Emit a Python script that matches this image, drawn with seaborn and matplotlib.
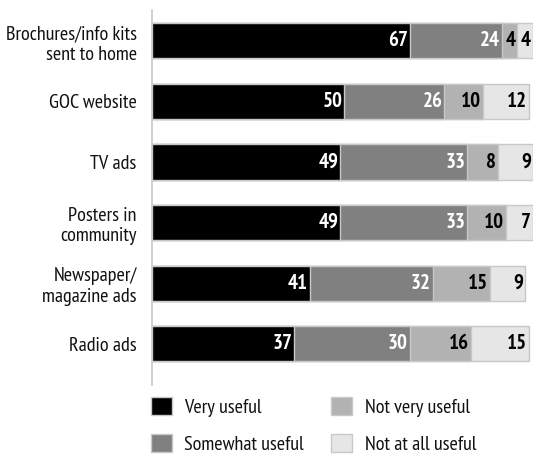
import matplotlib
matplotlib.use("Agg")
import matplotlib.pyplot as plt
import matplotlib.patches as mpatches
import numpy as np
import pandas as pd
import seaborn as sns

channels = ["Brochures/info kits\nsent to home", "GOC website", "TV ads",
            "Posters in\ncommunity", "Newspaper/\nmagazine ads", "Radio ads"]
very_useful = [67, 50, 49, 49, 41, 37]
somewhat_useful = [24, 26, 33, 33, 32, 30]
not_very_useful = [4, 10, 8, 10, 15, 16]
not_at_all_useful = [4, 12, 9, 7, 9, 15]

series_names = ["Very useful", "Somewhat useful", "Not very useful", "Not at all useful"]
series_values = [very_useful, somewhat_useful, not_very_useful, not_at_all_useful]
series_colors = ["#000000", "#808080", "#b2b2b2", "#e6e6e6"]
label_colors = ["white", "white", "black", "black"]

sns.set_theme(style="white")
plt.rcParams["font.family"] = ["PT Sans Narrow", "Roboto Condensed", "DejaVu Sans"]

df = pd.DataFrame({"channel": channels})
cum = np.cumsum(np.array(series_values, dtype=float), axis=0)
for i, name in enumerate(series_names):
    df[name] = cum[i]

fig = plt.figure(figsize=(5.34, 4.55), dpi=100)
ax = fig.add_axes([152 / 534, 70 / 455, 1 - 152 / 534 - 0.001, 375 / 455])

# stacked bars: draw cumulative totals from the outermost segment inwards
for i in range(len(series_names) - 1, -1, -1):
    sns.barplot(data=df, x=series_names[i], y="channel", orient="h",
                color=series_colors[i], width=0.58, edgecolor="#c8c8c8",
                linewidth=1.0, saturation=1, ax=ax)

for i in range(len(series_names)):
    for j in range(len(channels)):
        ax.text(cum[i][j] - 0.5, j, str(series_values[i][j]),
                ha="right", va="center", fontsize=15, fontweight="bold",
                color=label_colors[i])

ax.set_xlim(0, 99.2)
ax.set_ylim(5.68, -0.51)
ax.set_xlabel("")
ax.set_ylabel("")
ax.set_xticks([])
ax.tick_params(axis="y", length=0, labelsize=14.5, pad=11, labelcolor="#111111")
for s in ["top", "right", "bottom"]:
    ax.spines[s].set_visible(False)
ax.spines["left"].set_color("#c8c8c8")
ax.spines["left"].set_linewidth(1.2)

handles = [mpatches.Patch(facecolor=c, edgecolor="#c8c8c8", label=n)
           for c, n in zip(series_colors, series_names)]
fig.legend(handles=handles, ncol=2, loc="upper left",
           bbox_to_anchor=(133 / 534, 1 - 379 / 455), frameon=False,
           fontsize=14.5, handlelength=1.05, handleheight=1.0,
           handletextpad=0.6, columnspacing=1.35, labelspacing=0.85,
           labelcolor="#111111")

fig.savefig("out.png", dpi=100)
